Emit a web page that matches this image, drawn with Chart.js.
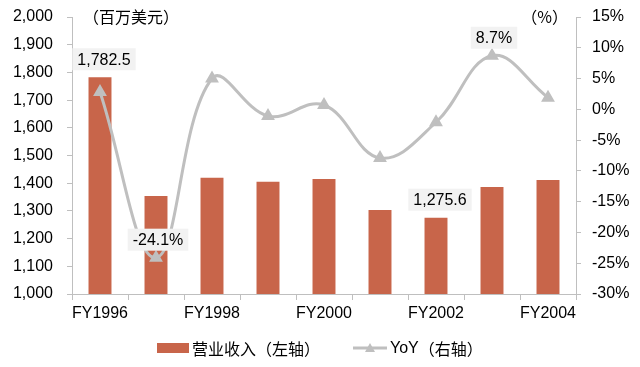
<!DOCTYPE html>
<html>
<head>
<meta charset="utf-8">
<script src="https://cdn.jsdelivr.net/npm/chart.js@4/dist/chart.umd.min.js"></script>
<style>
  html, body { margin: 0; padding: 0; background: #fff; }
  #wrap { width: 640px; height: 367px; }
</style>
</head>
<body>
<div id="wrap"><canvas id="revenueChart" width="640" height="367"></canvas></div>
<script>
const years = ['FY1996', 'FY1997', 'FY1998', 'FY1999', 'FY2000', 'FY2001', 'FY2002', 'FY2003', 'FY2004'];
const revenue = [1782.5, 1354, 1420, 1405, 1415, 1303, 1275.6, 1386, 1412];
const yoy = [2.8, -24.1, 5.0, -1.1, 0.7, -7.9, -2.1, 8.7, 1.9];
const leftTicks = [1000, 2000, 100];
const rightTicks = [-30, 15, 5];
// indexes that carry a boxed value label
const revenueLabelIdx = [0, 6];
const yoyLabelIdx = [1, 7];

const barColor = '#C8654A';
const lineColor = '#BFBFBF';
const inkColor = '#000000';
const axisColor = '#BFBFBF';
const latin = '"Liberation Sans", Arial, sans-serif';
const cjk = '"Noto Sans CJK SC", sans-serif';

function fmtNum(v) {
    return v.toLocaleString('en-US', { minimumFractionDigits: Number.isInteger(v) ? 0 : 1 });
}

function boxLabel(ctx, text, x, y) {
    ctx.font = '16px ' + latin;
    const w = ctx.measureText(text).width + 10;
    const h = 22;
    ctx.fillStyle = '#F2F2F2';
    ctx.fillRect(x - w / 2, y - h / 2, w, h);
    ctx.fillStyle = inkColor;
    ctx.textAlign = 'center';
    ctx.textBaseline = 'middle';
    ctx.fillText(text, x, y + 1);
}

const extras = {
    id: 'extras',
    afterDatasetsDraw(chart) {
        const ctx = chart.ctx;
        ctx.save();
        const barMeta = chart.getDatasetMeta(1);
        revenueLabelIdx.forEach((i) => {
            const el = barMeta.data[i];
            boxLabel(ctx, fmtNum(revenue[i]), el.x + 4, el.y - 18);
        });
        const lineMeta = chart.getDatasetMeta(0);
        yoyLabelIdx.forEach((i) => {
            const el = lineMeta.data[i];
            boxLabel(ctx, yoy[i].toFixed(1) + '%', el.x + 2, el.y - 18);
        });

        // axis unit titles
        ctx.font = '16px ' + cjk;
        ctx.fillStyle = inkColor;
        ctx.textBaseline = 'middle';
        ctx.textAlign = 'left';
        ctx.fillText('（百万美元）', 83, 17);
        ctx.textAlign = 'right';
        ctx.fillText('（%）', 568, 17);

        // legend
        const ly = 348;
        ctx.fillStyle = barColor;
        ctx.fillRect(157, ly - 5, 32, 10);
        ctx.fillStyle = inkColor;
        ctx.textAlign = 'left';
        ctx.fillText('营业收入（左轴）', 192, ly + 1);
        ctx.strokeStyle = lineColor;
        ctx.lineWidth = 3;
        ctx.beginPath();
        ctx.moveTo(353, ly);
        ctx.lineTo(387, ly);
        ctx.stroke();
        ctx.fillStyle = lineColor;
        ctx.beginPath();
        ctx.moveTo(370, ly - 5);
        ctx.lineTo(375, ly + 4);
        ctx.lineTo(365, ly + 4);
        ctx.closePath();
        ctx.fill();
        ctx.fillStyle = inkColor;
        ctx.font = '16px ' + latin;
        ctx.fillText('YoY', 390, ly + 1);
        const yw = ctx.measureText('YoY').width;
        ctx.font = '16px ' + cjk;
        ctx.fillText('（右轴）', 390 + yw, ly + 1);
        ctx.restore();
    },
};

function fixWidth(w) {
    return (s) => {
        s.width = w;
        s.paddingTop = 0;
        s.paddingBottom = 0;
    };
}

new Chart(document.getElementById('revenueChart'), {
    data: {
        labels: years,
        datasets: [
            {
                type: 'line',
                label: 'YoY（右轴）',
                data: yoy,
                yAxisID: 'yRight',
                borderColor: lineColor,
                backgroundColor: lineColor,
                borderWidth: 3,
                tension: 0.4,
                pointStyle: 'triangle',
                pointRadius: 5,
                pointBackgroundColor: lineColor,
                pointBorderColor: lineColor,
                order: 0,
            },
            {
                type: 'bar',
                label: '营业收入（左轴）',
                data: revenue,
                yAxisID: 'yLeft',
                backgroundColor: barColor,
                barPercentage: 0.41,
                categoryPercentage: 1,
                order: 1,
            },
        ],
    },
    options: {
        responsive: false,
        animation: false,
        layout: { padding: { top: 17, bottom: 33, left: 0, right: 0 } },
        plugins: {
            legend: { display: false },
            tooltip: { enabled: false },
        },
        scales: {
            x: {
                offset: true,
                grid: { drawOnChartArea: false, offset: true, tickLength: 6, color: axisColor },
                border: { color: axisColor, width: 1 },
                ticks: {
                    autoSkip: false,
                    maxRotation: 0,
                    padding: 4,
                    color: inkColor,
                    font: { size: 16, family: latin },
                    callback: (v, i) => (i % 2 === 0 ? years[i] : ''),
                },
                afterFit(s) {
                    s.height = 40;
                    s.paddingLeft = 0;
                    s.paddingRight = 0;
                },
            },
            yLeft: {
                position: 'left',
                min: leftTicks[0],
                max: leftTicks[1],
                grid: { drawOnChartArea: false, tickLength: 5, color: axisColor },
                border: { color: axisColor, width: 1 },
                ticks: {
                    stepSize: leftTicks[2],
                    padding: 14,
                    color: inkColor,
                    font: { size: 16, family: latin },
                    callback: (v) => v.toLocaleString('en-US'),
                },
                afterFit: fixWidth(72),
            },
            yRight: {
                position: 'right',
                min: rightTicks[0],
                max: rightTicks[1],
                grid: { drawOnChartArea: false, tickLength: 5, color: axisColor },
                border: { color: axisColor, width: 1 },
                ticks: {
                    stepSize: rightTicks[2],
                    padding: 11,
                    color: inkColor,
                    font: { size: 16, family: latin },
                    callback: (v) => v + '%',
                },
                afterFit: fixWidth(64),
            },
        },
    },
    plugins: [extras],
});
</script>
</body>
</html>
